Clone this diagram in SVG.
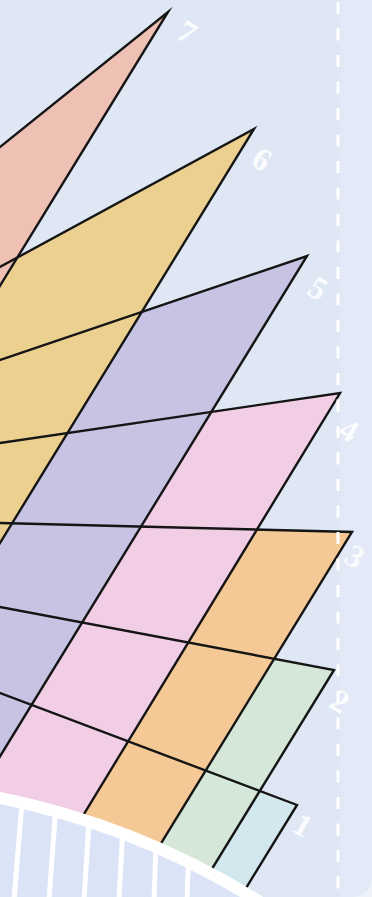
<svg xmlns="http://www.w3.org/2000/svg" width="372" height="897" viewBox="0 0 372 897">
  <defs>
    <style>
      .edge { fill: none; stroke: #151515; stroke-width: 2.4; stroke-linejoin: miter; stroke-miterlimit: 12; }
      .lbl { font-family: "Liberation Serif", "DejaVu Serif", serif; font-size: 32px; font-weight: bold; fill: #ffffff; fill-opacity: 0.9; text-anchor: middle; dominant-baseline: central; }
      .tick { stroke: #ffffff; stroke-width: 5; }
    </style>
    <clipPath id="below-arc">
      <path d="M -10 795.8 A 781 781 0 0 1 272.4 910 L -10 910 Z"/>
    </clipPath>
  </defs>

  <rect x="0" y="0" width="372" height="897" fill="#dfe7f5"/>
  <rect x="341" y="0" width="31" height="897" fill="#e3e9f6"/>
  <path d="M 372 878 A 19 19 0 0 1 353 897 L 372 897 Z" fill="#eef2fa"/>

  <g id="strip-7"><polygon points="168,12 -300,388 -600,950 -407.5,950" fill="#efc0b4"/></g>
  <g id="strip-6"><polygon points="254,129 17.3,257.6 -407.5,950 -249.7,950" fill="#ecd08f"/></g>
  <g id="strip-5"><polygon points="307,256 141.7,312 -249.7,950 -118.8,950" fill="#c6c3e3"/></g>
  <g id="strip-4"><polygon points="340,393 211.4,411.9 -118.8,950 1.3,950" fill="#f1cde6"/></g>
  <g id="strip-3"><polygon points="352,532 256.2,529.6 1.3,950 95.6,950" fill="#f5c995"/></g>
  <g id="strip-2"><polygon points="334,670 274.3,658.7 95.6,950 162.2,950" fill="#d5e7d8"/></g>
  <g id="strip-1"><polygon points="297,805 259.8,790.9 162.2,950 208,950" fill="#d3e7ef"/></g>

  <g id="grid-lines">
    <polyline class="edge" points="-10,155 168,12 -407.5,950"/>
    <polyline class="edge" points="-10,272.4 254,129 -249.7,950"/>
    <polyline class="edge" points="-10,363.4 307,256 -118.8,950"/>
    <polyline class="edge" points="-10,444.5 340,393 1.3,950"/>
    <polyline class="edge" points="-10,522.7 352,532 95.6,950"/>
    <polyline class="edge" points="-10,605.1 334,670 162.2,950"/>
    <polyline class="edge" points="-10,689.2 297,805 208,950"/>
  </g>

  <g id="base-arc">
    <path d="M -10 795.8 A 781 781 0 0 1 272.4 910 L -10 910 Z" fill="#dbe4f6"/>
    <g clip-path="url(#below-arc)">
      <line class="tick" x1="23" y1="790" x2="14" y2="900"/>
      <line class="tick" x1="57" y1="790" x2="49" y2="900"/>
      <line class="tick" x1="91" y1="790" x2="84" y2="900"/>
      <line class="tick" x1="125" y1="790" x2="119" y2="900"/>
      <line class="tick" x1="158" y1="790" x2="154" y2="900"/>
      <line class="tick" x1="191" y1="790" x2="187" y2="900"/>
    </g>
    <path d="M -10 795.8 A 781 781 0 0 1 272.4 910" fill="none" stroke="#ffffff" stroke-width="12"/>
  </g>

  <line id="divider" x1="338" y1="0" x2="338" y2="897" stroke="#ffffff" stroke-width="3" stroke-dasharray="12 14.5" stroke-dashoffset="-2"/>

  <g id="labels">
    <text class="lbl" transform="translate(187,32) rotate(31.5)">7</text>
    <text class="lbl" transform="translate(262,159) rotate(31.5)">6</text>
    <text class="lbl" transform="translate(318,288) rotate(31.5)">5</text>
    <text class="lbl" transform="translate(349,430) rotate(31.5)">4</text>
    <text class="lbl" transform="translate(355,556) rotate(31.5)">3</text>
    <text class="lbl" transform="translate(340,701) rotate(31.5)">2</text>
    <text class="lbl" transform="translate(303,825) rotate(31.5)">1</text>
  </g>
</svg>
